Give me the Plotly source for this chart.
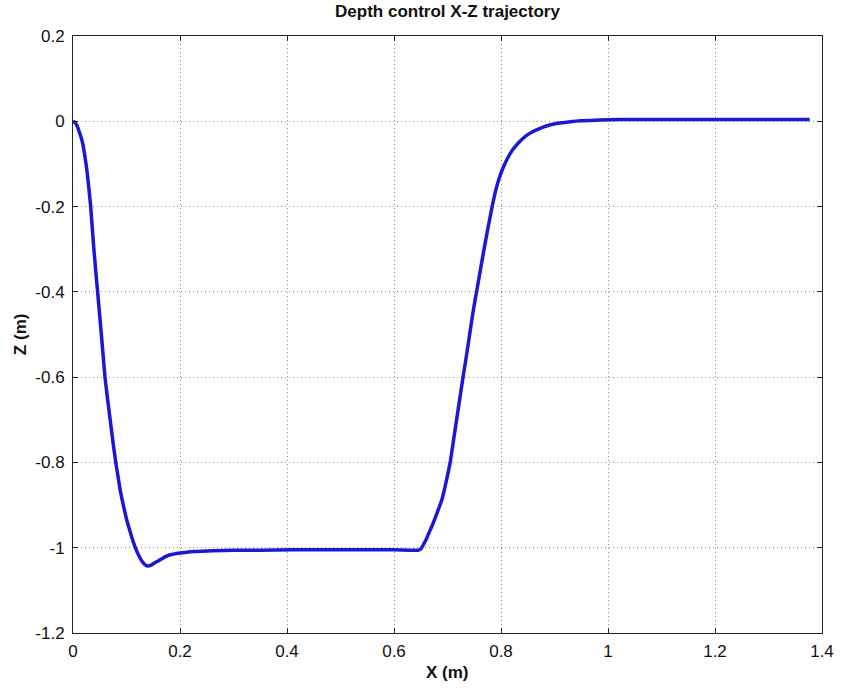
import plotly.graph_objects as go

# X-Z trajectory of the depth-control run (metres)
x_pos = [0.000, 0.003, 0.006, 0.009, 0.012, 0.0155, 0.0185, 0.022, 0.026, 0.0327,
         0.039, 0.046, 0.053, 0.0598, 0.065, 0.070, 0.075, 0.080, 0.085, 0.089,
         0.0935, 0.0974, 0.101, 0.105, 0.110, 0.116, 0.122, 0.128, 0.134, 0.140,
         0.146, 0.152, 0.159, 0.166, 0.173, 0.180, 0.188, 0.197, 0.210, 0.225,
         0.240, 0.259, 0.300, 0.350, 0.410, 0.474, 0.540, 0.600, 0.630, 0.640,
         0.645, 0.650, 0.655, 0.660, 0.665, 0.671, 0.677, 0.683, 0.690, 0.697,
         0.705, 0.711, 0.717, 0.723, 0.729, 0.736, 0.742, 0.748, 0.755, 0.762,
         0.769, 0.776, 0.783, 0.789, 0.795, 0.801, 0.807, 0.813, 0.820, 0.828,
         0.836, 0.848, 0.860, 0.872, 0.885, 0.897, 0.910, 0.930, 0.950, 0.970,
         0.985, 1.020, 1.050, 1.120, 1.200, 1.300, 1.377]
z_pos = [0.000, -0.002, -0.007, -0.015, -0.026, -0.039, -0.054, -0.080, -0.115, -0.195,
         -0.300, -0.400, -0.500, -0.600, -0.655, -0.705, -0.755, -0.800, -0.840, -0.870,
         -0.897, -0.919, -0.938, -0.955, -0.976, -0.998, -1.016, -1.030, -1.039, -1.043,
         -1.041, -1.036, -1.031, -1.026, -1.021, -1.017, -1.015, -1.013, -1.011, -1.009,
         -1.008, -1.007, -1.006, -1.006, -1.005, -1.005, -1.005, -1.005, -1.006, -1.006,
         -1.006, -1.003, -0.993, -0.981, -0.966, -0.949, -0.930, -0.910, -0.885, -0.848,
         -0.800, -0.750, -0.700, -0.650, -0.600, -0.545, -0.495, -0.445, -0.395, -0.345,
         -0.295, -0.248, -0.203, -0.168, -0.140, -0.118, -0.100, -0.085, -0.070, -0.057,
         -0.046, -0.033, -0.024, -0.017, -0.011, -0.007, -0.004, -0.001, 0.001, 0.002,
         0.003, 0.004, 0.004, 0.004, 0.004, 0.004, 0.004]

x_ticks = [0, 0.2, 0.4, 0.6, 0.8, 1.0, 1.2, 1.4]
x_tick_text = ["0", "0.2", "0.4", "0.6", "0.8", "1", "1.2", "1.4"]
z_ticks = [-1.2, -1.0, -0.8, -0.6, -0.4, -0.2, 0, 0.2]
z_tick_text = ["-1.2", "-1", "-0.8", "-0.6", "-0.4", "-0.2", "0", "0.2"]

FONT = "Liberation Sans, Arial, sans-serif"

fig = go.Figure()
fig.add_trace(go.Scatter(
    x=x_pos, y=z_pos, mode="lines",
    line=dict(color="#1818d6", width=3.5, shape="spline", smoothing=0.6),
    showlegend=False,
))

axis_common = dict(
    showline=True, linecolor="#222222", linewidth=1, mirror="ticks",
    ticks="inside", ticklen=5, tickcolor="#222222",
    showgrid=True, gridcolor="#8c8c8c", griddash="1px,3px", gridwidth=1,
    zeroline=False,
    tickfont=dict(family=FONT, size=17, color="#111111"),
)

fig.update_xaxes(range=[0, 1.4], tickmode="array", tickvals=x_ticks,
                 ticktext=x_tick_text, ticklabelstandoff=3, **axis_common)
fig.update_yaxes(range=[-1.2, 0.2], tickmode="array", tickvals=z_ticks,
                 ticktext=z_tick_text, ticklabelstandoff=4, **axis_common)

plot_w = 846 - 73 - 15
plot_h = 688 - 36 - 55

fig.update_layout(
    width=846, height=688,
    margin=dict(l=73, r=15, t=36, b=55),
    paper_bgcolor="white", plot_bgcolor="white",
    font=dict(family=FONT, color="#111111"),
    title=dict(text="<b>Depth control X-Z trajectory</b>",
               x=0.5, xref="paper", xanchor="center",
               y=1 - 11 / 688, yref="container", yanchor="middle",
               font=dict(family=FONT, size=17, color="#111111")),
    annotations=[
        dict(text="<b>X (m)</b>", x=0.5, xref="paper",
             y=-(672 - 633) / plot_h, yref="paper", yanchor="middle",
             showarrow=False, font=dict(family=FONT, size=17)),
        dict(text="<b>Z (m)</b>", x=-(73 - 20) / plot_w, xref="paper",
             xanchor="center", y=0.5, yref="paper",
             textangle=-90, showarrow=False, font=dict(family=FONT, size=17)),
    ],
)

fig.write_html("out.html")
